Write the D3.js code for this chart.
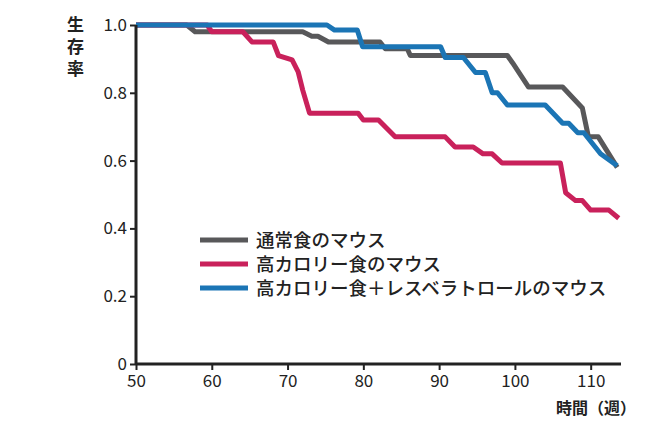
<!DOCTYPE html>
<html><head><meta charset="utf-8">
<script src="https://cdn.jsdelivr.net/npm/d3@7"></script>
<style>body{margin:0;background:#fff}text{font-family:"Noto Sans CJK JP","Noto Sans",sans-serif}</style>
</head><body><svg id="c" width="645" height="421"></svg>
<script>
// survival curves: [week, rate]
const normal = [[50,1],[56.7,1],[57.8,0.98],[72,0.98],[73.2,0.967],[74,0.967],[75.4,0.95],[82.2,0.95],[82.9,0.93],[85.8,0.93],[86.2,0.91],[99,0.91],[99.7,0.888],[101.8,0.817],[106.3,0.817],[108.9,0.755],[109.7,0.67],[111,0.67],[113.5,0.58]];
const highCal = [[50,1],[59.4,1],[60,0.98],[64.1,0.98],[65.3,0.95],[68.1,0.95],[68.8,0.91],[70.6,0.897],[71.4,0.862],[72,0.808],[72.9,0.74],[79.3,0.74],[80,0.72],[82,0.72],[84.2,0.67],[90.8,0.67],[92.1,0.64],[94.5,0.64],[95.8,0.62],[97,0.62],[98.3,0.593],[106,0.593],[106.7,0.505],[108,0.482],[108.9,0.482],[110,0.454],[112.4,0.454],[113.7,0.43]];
const resv = [[50,1],[75.2,1],[76.2,0.985],[79.2,0.985],[79.9,0.936],[90.2,0.936],[90.8,0.904],[93.2,0.904],[94.8,0.86],[96.1,0.86],[97,0.8],[97.7,0.8],[99,0.764],[104,0.764],[106.3,0.71],[107.1,0.71],[108.3,0.682],[109.1,0.682],[111.3,0.62],[113.5,0.585]];
const seriesNames = ["通常食のマウス","高カロリー食のマウス","高カロリー食＋レスベラトロールのマウス"];
const colors = ["#58585a","#c9215b","#1b75b5"];
const xTicks = [50,60,70,80,90,100,110];
const yTicks = [0,0.2,0.4,0.6,0.8,1.0];

const svg = d3.select('#c');
const x = d3.scaleLinear().domain([50,114]).range([136,621]);
const y = d3.scaleLinear().domain([0,1]).range([364,25]);

const line = d3.line().x(d => x(d[0])).y(d => y(d[1]));
[normal, highCal, resv].forEach((s,i) => {
  svg.append('path').attr('d', line(s)).attr('fill','none')
    .attr('stroke', colors[i]).attr('stroke-width',5).attr('stroke-linejoin','round');
});

const xa = svg.append('g').attr('transform','translate(0,364)')
  .call(d3.axisBottom(x).tickValues(xTicks).tickSize(6).tickFormat(d3.format('d')));
const ya = svg.append('g').attr('transform','translate(136,0)')
  .call(d3.axisLeft(y).tickValues(yTicks).tickSize(6).tickFormat(d => d === 0 ? '0' : d3.format('.1f')(d)));
[xa, ya].forEach(a => {
  a.select('.domain').attr('stroke','#222').attr('stroke-width',3);
  a.selectAll('.tick line').attr('stroke','#222').attr('stroke-width',2);
  a.selectAll('text').attr('font-size',17).attr('fill','#222');
});
xa.select('.domain').attr('d','M136,0H621');
ya.select('.domain').attr('d','M0,364V25');
xa.selectAll('text').attr('dy','0.85em');

['生','存','率'].forEach((c,i) => svg.append('text').attr('x',67).attr('y',31+i*22)
  .attr('font-size',17).attr('font-weight','bold').attr('fill','#222').text(c));
svg.append('text').attr('x',636).attr('y',414).attr('text-anchor','end')
  .attr('font-size',16).attr('font-weight','bold').attr('fill','#222').text('時間（週）');

seriesNames.forEach((n,i) => {
  const ly = 240 + i*24;
  svg.append('line').attr('x1',200).attr('x2',248).attr('y1',ly).attr('y2',ly)
    .attr('stroke',colors[i]).attr('stroke-width',5);
  svg.append('text').attr('x',256).attr('y',ly+7).attr('font-size',18.5)
    .attr('font-weight',500).attr('fill','#222').text(n);
});
</script></body></html>
